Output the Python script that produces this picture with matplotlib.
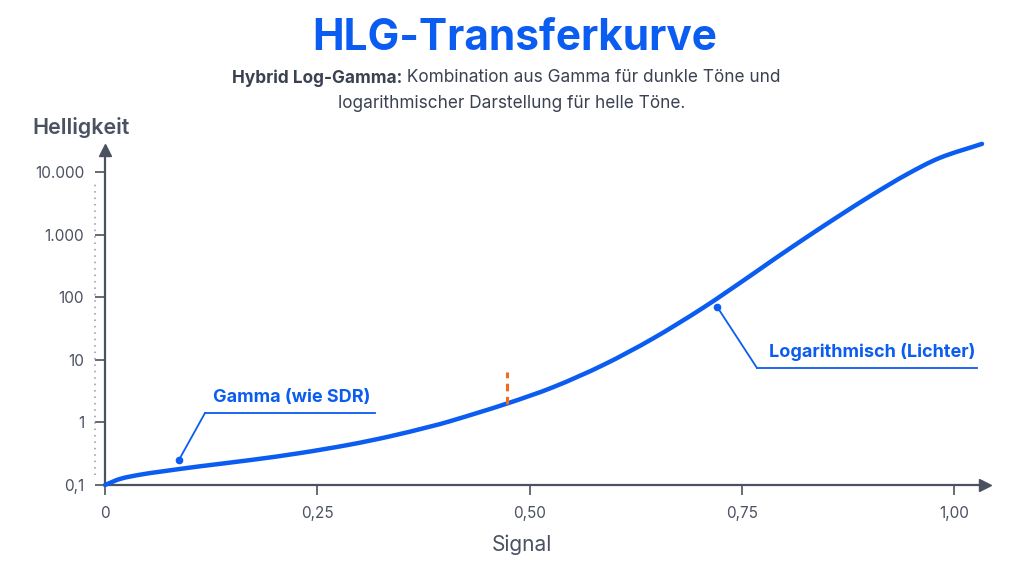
import matplotlib
matplotlib.use("Agg")
import numpy as np
import matplotlib.pyplot as plt
from matplotlib.path import Path
from matplotlib.patches import PathPatch
from matplotlib.ticker import FixedLocator, FixedFormatter

# ---- data ----
signal = [0.0, 0.0177, 0.0412, 0.0648, 0.112, 0.171, 0.230, 0.289, 0.336,
          0.383, 0.406, 0.4735, 0.528, 0.587, 0.645, 0.704, 0.760, 0.787,
          0.827, 0.866, 0.905, 0.945, 0.983, 1.033]
brightness = [0.1, 0.125, 0.146, 0.163, 0.199, 0.250, 0.324, 0.443, 0.600,
              0.857, 1.04, 2.00, 3.66, 8.28, 21.7, 67.0, 219, 394,
              918, 2042, 4416, 9226, 16710, 28050]

x_ticks = [0, 0.25, 0.5, 0.75, 1.0]
x_tick_labels = ["0", "0,25", "0,50", "0,75", "1,00"]
y_ticks = [0.1, 1, 10, 100, 1000, 10000]
y_tick_labels = ["0,1", "1", "10", "100", "1.000", "10.000"]

transition_x = [0.4735, 0.4735]
transition_y = [1.97, 6.4]

gamma_point = (0.087, 0.25)
log_point = (0.721, 70)

BLUE = "#0b5cf0"
DARK = "#4a5160"
TEXT = "#3a4150"
ORANGE = "#f26a1b"

plt.rcParams['font.family'] = ['Inter', 'DejaVu Sans']

W, H = 1024, 576
def fx(px):
    return px / W
def fy(py):
    return 1 - py / H

fig = plt.figure(figsize=(10.24, 5.76), dpi=100)
fig.patch.set_facecolor("white")
ax = fig.add_axes([fx(105), fy(485), 880 / W, 335 / H])
ax.set_yscale("log")
ax.set_xlim(0, 1.0365)
ax.set_ylim(0.1, 10 ** 4.35)

# smooth curve through the data points (cubic Hermite as Bezier segments,
# built in (x, log y) space so it is smooth on the log axis)
xs = np.asarray(signal, float)
ls = np.log10(np.asarray(brightness, float))
n = len(xs)
m = np.empty(n)
m[0] = (ls[1] - ls[0]) / (xs[1] - xs[0])
m[-1] = (ls[-1] - ls[-2]) / (xs[-1] - xs[-2])
m[1:-1] = (ls[2:] - ls[:-2]) / (xs[2:] - xs[:-2])
verts = [(xs[0], ls[0])]
codes = [Path.MOVETO]
for i in range(n - 1):
    dx = xs[i + 1] - xs[i]
    verts += [(xs[i] + dx / 3, ls[i] + m[i] * dx / 3),
              (xs[i + 1] - dx / 3, ls[i + 1] - m[i + 1] * dx / 3),
              (xs[i + 1], ls[i + 1])]
    codes += [Path.CURVE4] * 3
verts = np.array(verts)
verts[:, 1] = 10 ** verts[:, 1]
curve = PathPatch(Path(verts, codes), facecolor="none", edgecolor=BLUE, lw=3.2,
                  capstyle="round", joinstyle="round", zorder=3, clip_on=False)
ax.add_patch(curve)

ax.plot(transition_x, transition_y, color=ORANGE, lw=2.2, ls=(0, (2.5, 1.8)), zorder=4)

for s in ["top", "right"]:
    ax.spines[s].set_visible(False)
for s in ["left", "bottom"]:
    ax.spines[s].set_color(DARK)
    ax.spines[s].set_linewidth(1.6)

# arrow heads
ax.plot([1], [0], marker=">", color=DARK, ms=8, transform=ax.transAxes, clip_on=False)
ax.plot([0], [1], marker="^", color=DARK, ms=8, transform=ax.transAxes, clip_on=False)

ax.xaxis.set_major_locator(FixedLocator(x_ticks))
ax.xaxis.set_major_formatter(FixedFormatter(x_tick_labels))
ax.yaxis.set_major_locator(FixedLocator(y_ticks))
ax.yaxis.set_major_formatter(FixedFormatter(y_tick_labels))
ax.yaxis.set_minor_locator(FixedLocator([]))
ax.tick_params(axis="x", direction="out", length=7, width=1.2, color=DARK,
               labelcolor=DARK, labelsize=11, pad=8)
ax.tick_params(axis="y", direction="out", length=7.5, width=1.2, color=DARK,
               labelcolor=DARK, labelsize=11, pad=7.5)

# dotted guide left of y axis
ax.plot([-0.0115, -0.0115], [0.03, 0.91], transform=ax.transAxes, color="#8f96a1",
        lw=1.1, ls=(0, (1, 3.2)), clip_on=False)

# annotations
gx, gy = gamma_point
ax.plot([gx], [gy], "o", color=BLUE, ms=4.5, zorder=5)
ax.annotate("", xy=(gx, gy), xytext=(fx(205), fy(413)), textcoords="figure fraction",
            arrowprops=dict(arrowstyle="-", color=BLUE, lw=1.3, shrinkA=0, shrinkB=0))
fig.add_artist(plt.Line2D([fx(205), fx(375)], [fy(413), fy(413)],
                          color=BLUE, lw=1.3, transform=fig.transFigure))
fig.text(fx(292), fy(397), "Gamma (wie SDR)", color=BLUE, fontsize=13,
         fontweight="bold", ha="center", va="center")

lx, ly = log_point
ax.plot([lx], [ly], "o", color=BLUE, ms=4.5, zorder=5)
ax.annotate("", xy=(lx, ly), xytext=(fx(757), fy(368)), textcoords="figure fraction",
            arrowprops=dict(arrowstyle="-", color=BLUE, lw=1.3, shrinkA=0, shrinkB=0))
fig.add_artist(plt.Line2D([fx(757), fx(977)], [fy(368), fy(368)],
                          color=BLUE, lw=1.3, transform=fig.transFigure))
fig.text(fx(872), fy(352), "Logarithmisch (Lichter)", color=BLUE, fontsize=13,
         fontweight="bold", ha="center", va="center")

# titles
fig.text(fx(515), fy(38), "HLG-Transferkurve", color=BLUE, fontsize=30.5,
         fontweight="bold", ha="center", va="center")

# subtitle line 1: bold lead + regular text
renderer = fig.canvas.get_renderer()
t_bold = fig.text(fx(232), fy(78), "Hybrid Log-Gamma:", color=TEXT, fontsize=12.4,
                  fontweight="bold", ha="left", va="center")
wb = t_bold.get_window_extent(renderer).width
fig.text(fx(232 + wb), fy(78), " Kombination aus Gamma für dunkle Töne und",
         color=TEXT, fontsize=12.4, ha="left", va="center")
fig.text(fx(512), fy(103), "logarithmischer Darstellung für helle Töne.",
         color=TEXT, fontsize=12.4, ha="center", va="center")

fig.text(fx(32), fy(128), "Helligkeit", color=DARK, fontsize=15.5,
         fontweight="semibold", ha="left", va="center")
fig.text(fx(522), fy(545), "Signal", color=DARK, fontsize=15,
         ha="center", va="center")

fig.savefig("out.png", dpi=100, facecolor="white")
